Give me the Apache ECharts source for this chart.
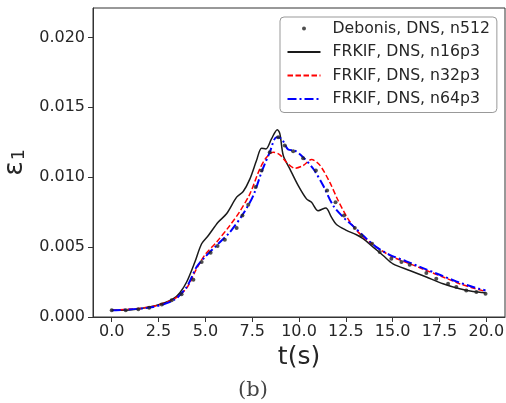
<!DOCTYPE html>
<html>
<head>
<meta charset="utf-8">
<script src="https://cdn.jsdelivr.net/npm/echarts@6/dist/echarts.min.js"></script>
<style>html,body{margin:0;padding:0;background:#fff}#c{width:506px;height:403px}</style>
</head>
<body>
<div id="c"></div>
<script>
const xTicks = [0, 2.5, 5, 7.5, 10, 12.5, 15, 17.5, 20];
const yTicks = [0, 0.005, 0.010, 0.015, 0.020];

const debT = [0,0.75,1.42,2.0,2.67,3.2,3.73,4.36,4.8,5.28,5.65,6.04,6.67,6.98,7.29,7.68,8.0,8.44,8.89,9.24,9.69,10.22,10.9,11.5,11.95,12.4,12.98,13.33,13.9,14.31,14.93,15.47,15.91,16.8,17.33,17.96,18.4,18.93,19.47,19.96];
const debE = [0.00048,0.00048,0.00055,0.00067,0.0009,0.00119,0.00162,0.00267,0.00393,0.0046,0.00507,0.00552,0.00636,0.00726,0.00802,0.00929,0.01048,0.01179,0.01286,0.01226,0.01186,0.01136,0.01048,0.00905,0.00821,0.00726,0.00636,0.00583,0.00524,0.00464,0.00417,0.00393,0.00374,0.00314,0.00274,0.00238,0.00214,0.0019,0.00179,0.00167];

const n16T = [0,0.75,2.0,2.67,3.29,3.64,4.0,4.44,4.8,5.16,5.69,6.13,6.67,7.02,7.38,7.73,8.0,8.23,8.53,8.84,8.98,9.16,9.51,9.96,10.4,10.67,11.02,11.43,11.73,12.0,12.53,13.07,13.42,13.96,14.49,15.02,15.91,16.8,17.69,18.58,19.29,19.96];
const n16E = [0.00048,0.00048,0.00071,0.00095,0.00131,0.00174,0.0025,0.00393,0.00524,0.00583,0.00679,0.00738,0.00857,0.00898,0.00988,0.01119,0.01207,0.01202,0.01274,0.0134,0.0131,0.01155,0.0106,0.0094,0.00845,0.0082,0.0076,0.0078,0.00714,0.00662,0.0062,0.00588,0.0056,0.005,0.0044,0.0038,0.00333,0.00286,0.00238,0.00202,0.00183,0.00174];

const n32T = [0,2.0,3.29,4.0,4.53,4.98,5.6,6.31,6.84,7.38,7.91,8.27,8.62,8.98,9.33,9.78,10.22,10.67,11.1,11.64,12.09,12.62,13.16,13.78,14.4,15.02,15.91,16.8,17.69,18.58,19.29,19.96];
const n32E = [0.00048,0.00071,0.00126,0.00207,0.00345,0.00445,0.00536,0.00655,0.00755,0.00881,0.0106,0.01143,0.01179,0.0116,0.01107,0.01064,0.01083,0.01126,0.01088,0.00964,0.00833,0.00702,0.00607,0.00536,0.00476,0.00429,0.00381,0.00333,0.00286,0.00238,0.00207,0.00183];

const n64T = [0,2.0,3.29,4.0,4.53,4.98,5.6,6.31,7.02,7.56,8.0,8.44,8.8,9.07,9.42,9.78,10.22,10.76,11.29,11.82,12.36,12.89,13.42,14.13,14.84,15.73,16.62,17.51,18.4,19.29,19.96];
const n64E = [0.00048,0.00067,0.00119,0.00214,0.00357,0.00429,0.00512,0.00607,0.00738,0.00869,0.01036,0.01179,0.01286,0.01274,0.01198,0.0119,0.01143,0.0106,0.0094,0.00798,0.00714,0.0065,0.00583,0.005,0.00445,0.00398,0.0035,0.00302,0.00255,0.00214,0.0019];

const names = ['Debonis, DNS, n512','FRKIF, DNS, n16p3','FRKIF, DNS, n32p3','FRKIF, DNS, n64p3'];
const zip = (a, b) => a.map((v, i) => [v, b[i]]);

const txt = '#262626';
const chart = echarts.init(document.getElementById('c'), null, {renderer: 'canvas'});
chart.setOption({
  backgroundColor: '#fff',
  animation: false,
  grid: {left: 93, top: 8, width: 412, height: 309, show: true, borderColor: '#333', borderWidth: 1, containLabel: false, outerBoundsMode: 'none'},
  xAxis: {
    type: 'value', min: -1, max: 21,
    name: 't(s)', nameLocation: 'middle', nameGap: 23,
    nameTextStyle: {fontFamily: 'DejaVu Sans', fontSize: 25, color: txt},
    axisLine: {show: true, onZero: false, lineStyle: {color: '#333', width: 1}},
    axisTick: {show: true, inside: false, length: 5, lineStyle: {color: '#333'}, customValues: xTicks},
    axisLabel: {customValues: xTicks, formatter: v => v.toFixed(1), fontFamily: 'DejaVu Sans', fontSize: 16, color: txt, margin: 7},
    splitLine: {show: false}
  },
  yAxis: {
    type: 'value', min: 0, max: 0.0221,
    name: '{e|ε}{s|1}', nameLocation: 'middle', nameGap: 59, nameRotate: 90,
    nameTextStyle: {color: txt, fontFamily: 'DejaVu Sans', rich: {e: {fontSize: 27, fontFamily: 'DejaVu Sans', color: txt}, s: {fontSize: 17, fontFamily: 'DejaVu Sans', color: txt, verticalAlign: 'bottom', padding: [0,0,0,1]}}},
    axisLine: {show: true, onZero: false, lineStyle: {color: '#333', width: 1}},
    axisTick: {show: true, inside: false, length: 5, lineStyle: {color: '#333'}, customValues: yTicks},
    axisLabel: {customValues: yTicks, formatter: v => v.toFixed(3), fontFamily: 'DejaVu Sans', fontSize: 16, color: txt, margin: 8},
    splitLine: {show: false}
  },
  legend: {
    orient: 'vertical', left: 280, top: 17,
    padding: [2, 7, 4, 6.5], itemGap: 4.5, itemWidth: 33, itemHeight: 4,
    backgroundColor: '#fff', borderColor: '#999', borderWidth: 1, borderRadius: 4,
    textStyle: {fontFamily: 'DejaVu Sans', fontSize: 15.7, color: txt, lineHeight: 19, padding: [0, 0, 0, 7]},
    data: [
      {name: names[0], icon: 'circle'},
      {name: names[1], itemStyle: {opacity: 0}},
      {name: names[2], itemStyle: {opacity: 0}},
      {name: names[3], itemStyle: {opacity: 0}}
    ]
  },
  series: [
    {name: names[0], type: 'scatter', data: zip(debT, debE), symbol: 'circle', symbolSize: 4, itemStyle: {color: '#222'}, z: 5},
    {name: names[1], type: 'line', data: zip(n16T, n16E), symbol: 'none', smooth: 0.3, lineStyle: {color: '#1a1a1a', width: 1.5}, itemStyle: {color: '#1a1a1a'}},
    {name: names[2], type: 'line', data: zip(n32T, n32E), symbol: 'none', smooth: 0.3, lineStyle: {color: '#ff0000', width: 1.5, type: [5.5, 2.5]}, itemStyle: {color: '#ff0000'}},
    {name: names[3], type: 'line', data: zip(n64T, n64E), symbol: 'none', smooth: 0.3, lineStyle: {color: '#0000ff', width: 2, type: [9, 3, 2, 3]}, itemStyle: {color: '#0000ff'}}
  ],
  graphic: [
    {type: 'text', left: 'center', top: 380, style: {text: '(b)', fontFamily: 'DejaVu Serif', fontSize: 21, fill: '#444'}}
  ]
});
</script>
</body>
</html>
